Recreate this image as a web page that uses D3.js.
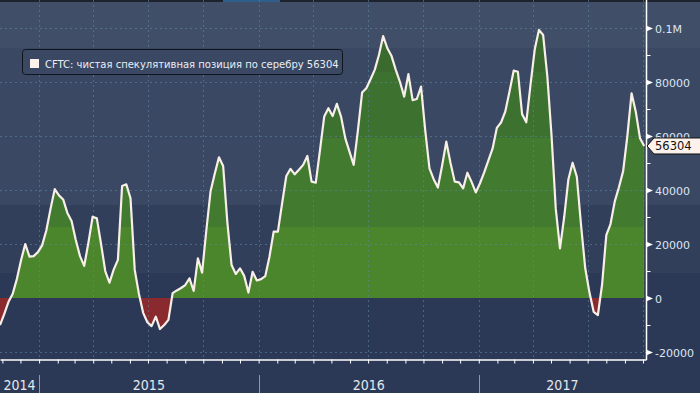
<!DOCTYPE html>
<html lang="ru">
<head>
<meta charset="utf-8">
<title>CFTC silver</title>
<script src="https://d3js.org/d3.v7.min.js"></script>
<style>
  body { margin: 0; background: #2c3956; }
  svg { display: block; }
  .ylab { font: 11px "DejaVu Sans", sans-serif; fill: #dbe5f3; }
  .xlab { font: 14px "Liberation Sans Narrow", "DejaVu Sans Condensed", sans-serif; fill: #e3e8ef; }
  .legend-text { font: 10px "DejaVu Sans", sans-serif; fill: #e8edf5; }
</style>
</head>
<body>
<svg width="700" height="393"></svg>
<script>
// weekly CFTC data, first report 2014-10-28
var startDate = new Date(2014, 9, 28);
var values = [
  -10000, -6000, -1500, 1500, 7000, 14000, 20000, 15300, 15500, 17000,
  19500, 25000, 33000, 40300, 38000, 36500, 31500, 28500, 21500, 15500,
  11900, 20500, 30100, 29500, 20000, 10000, 5700, 10500, 14100, 41500,
  42100, 36900, 10400, 1500, -5500, -9000, -10400, -6900, -11500, -10000,
  -8100, 1800, 2800, 3700, 4800, 7300, 2600, 14700, 9400, 25000,
  39400, 46000, 52100, 48900, 28000, 12200, 8900, 11000, 8200, 2000,
  9700, 6500, 7000, 8100, 15300, 24600, 24600, 35000, 45200, 47800,
  45800, 47500, 49300, 52600, 43100, 42700, 54800, 67200, 70300, 67400,
  71900, 67200, 59200, 54200, 49300, 62000, 76100, 77700, 81000, 84500,
  90000, 97000, 92500, 89600, 84500, 80000, 74600, 82900, 73300, 73700,
  78300, 62000, 48000, 44000, 40900, 49000, 57900, 50000, 43100, 42800,
  40600, 46400, 43000, 39100, 42500, 46500, 51000, 55400, 63000, 65000,
  69000, 76400, 84200, 83800, 68100, 65100, 79000, 92000, 99300, 97400,
  82000, 60000, 33000, 18400, 30000, 44000, 50100, 44900, 27000, 11000,
  2000, -5100, -6300, 5000, 23300, 27400, 35700, 41000, 47000, 60000,
  75800, 69000, 59200, 56304
];
var yMajor = [-20000, 0, 20000, 40000, 60000, 80000, 100000];
var yMinor = [-20000, -10000, 0, 10000, 20000, 30000, 40000, 50000, 60000, 70000, 80000, 90000, 100000];
var years = [2014, 2015, 2016, 2017];
var seriesName = "CFTC: чистая спекулятивная позиция по серебру";

var dates = values.map(function(v, i) { return d3.timeDay.offset(startDate, 7 * i); });
var data = values.map(function(v, i) { return {date: dates[i], value: v}; });
var last = data[data.length - 1];

var svg = d3.select("svg"),
    W = 700, H = 393,
    plotRight = 646, plotBottom = 359;

var x = d3.scaleTime()
    .domain([startDate, new Date(2017, 9, 6)])
    .range([0, plotRight]);
var y = d3.scaleLinear()
    .domain([-20000, 100000])
    .range([352, 28]);

var defs = svg.append("defs");

// stepped background shading
function stepGradient(id, stops, y2) {
  var g = defs.append("linearGradient")
      .attr("id", id)
      .attr("gradientUnits", "userSpaceOnUse")
      .attr("x1", 0).attr("y1", 0).attr("x2", 0).attr("y2", y2);
  stops.forEach(function(s, i) {
    var from = s[0] / y2, to = (i < stops.length - 1 ? stops[i + 1][0] : y2) / y2;
    g.append("stop").attr("offset", from).attr("stop-color", s[1]);
    g.append("stop").attr("offset", to).attr("stop-color", s[1]);
  });
}
stepGradient("bg", [[0, "#414e68"], [48, "#3a4863"], [205, "#323f5b"], [273, "#2c3956"]], H);
stepGradient("green", [[0, "#3a6a2d"], [72, "#3d712f"], [138, "#427a30"], [227, "#4b862c"]], y(0));

svg.append("rect").attr("width", W).attr("height", H).attr("fill", "url(#bg)");
svg.append("rect").attr("width", W).attr("height", 2).attr("fill", "#1d222c");
svg.append("rect").attr("x", 223).attr("width", 57).attr("height", 2).attr("fill", "#2f5d8c");

defs.append("clipPath").attr("id", "above")
  .append("rect").attr("x", 0).attr("y", 0).attr("width", plotRight).attr("height", y(0));
defs.append("clipPath").attr("id", "below")
  .append("rect").attr("x", 0).attr("y", y(0)).attr("width", plotRight).attr("height", plotBottom - y(0));

var area = d3.area()
    .x(function(d) { return x(d.date); })
    .y0(y(0))
    .y1(function(d) { return y(d.value); });

svg.append("path").datum(data)
    .attr("clip-path", "url(#above)")
    .attr("fill", "url(#green)")
    .attr("d", area);
svg.append("path").datum(data)
    .attr("clip-path", "url(#below)")
    .attr("fill", "#8a2a2f")
    .attr("d", area);

// grid
var grid = svg.append("g").attr("stroke", "#5f88a6").attr("stroke-opacity", 0.55)
    .attr("stroke-dasharray", "2,3").attr("stroke-width", 1);
yMajor.filter(function(v) { return v !== 0; }).forEach(function(v) {
  grid.append("line").attr("x1", 0).attr("x2", plotRight)
    .attr("y1", Math.round(y(v)) + 0.5).attr("y2", Math.round(y(v)) + 0.5);
});
x.ticks(d3.timeMonth.every(3)).forEach(function(d) {
  grid.append("line").attr("y1", 0).attr("y2", plotBottom)
    .attr("x1", Math.round(x(d)) + 0.5).attr("x2", Math.round(x(d)) + 0.5);
});

svg.append("path").datum(data)
    .attr("fill", "none")
    .attr("stroke", "#f8efe8")
    .attr("stroke-width", 2.2)
    .attr("stroke-linejoin", "round")
    .attr("d", d3.line()
      .x(function(d) { return x(d.date); })
      .y(function(d) { return y(d.value); }));

// right axis
var yAxisG = svg.append("g")
    .attr("transform", "translate(" + (plotRight + 0.5) + ",0)")
    .call(d3.axisRight(y).tickValues(yMinor).tickSize(4).tickSizeOuter(0).tickFormat(""));
yAxisG.select(".domain").remove();
yAxisG.selectAll("line").attr("stroke", "#ffffff");
svg.append("line").attr("x1", plotRight + 0.5).attr("x2", plotRight + 0.5)
    .attr("y1", 0).attr("y2", plotBottom + 1).attr("stroke", "#ffffff").attr("stroke-width", 1.5);

svg.selectAll(".ytri").data(yMajor).enter().append("path")
    .attr("fill", "#ffffff")
    .attr("d", function(v) {
      var yy = Math.round(y(v)) + 0.5;
      return "M" + plotRight + "," + (yy - 3) + "L" + (plotRight + 7) + "," + yy + "L" + plotRight + "," + (yy + 3) + "Z";
    });
svg.selectAll(".ylab").data(yMajor).enter().append("text")
    .attr("class", "ylab")
    .attr("x", 655)
    .attr("y", function(v) { return y(v) + 4.5; })
    .text(function(v) { return v === 100000 ? "0.1M" : String(v); });

// bottom axis
var xAxisG = svg.append("g")
    .attr("transform", "translate(0," + (plotBottom + 0.5) + ")")
    .call(d3.axisBottom(x).ticks(d3.timeMonth.every(1)).tickSize(4).tickSizeOuter(0).tickFormat(""));
xAxisG.select(".domain").attr("stroke", "#ffffff").attr("stroke-width", 1.5);
xAxisG.selectAll("line").attr("stroke", "#ffffff");

years.slice(1).forEach(function(yr) {
  var xx = Math.round(x(new Date(yr, 0, 1))) + 0.5;
  svg.append("line").attr("x1", xx).attr("x2", xx).attr("y1", 375).attr("y2", H)
    .attr("stroke", "#8d98aa").attr("stroke-width", 1);
});
years.forEach(function(yr) {
  var a = Math.max(0, x(new Date(yr, 0, 1)));
  var b = Math.min(plotRight, x(new Date(yr + 1, 0, 1)));
  svg.append("text").attr("class", "xlab")
    .attr("x", (a + b) / 2).attr("y", 390)
    .attr("text-anchor", "middle")
    .text(yr);
});

// last value tag
var ty = y(last.value);
svg.append("path")
    .attr("d", "M" + (plotRight + 1) + "," + ty + "L" + (plotRight + 8) + "," + (ty - 8) +
      "L" + (W + 2) + "," + (ty - 8) + "L" + (W + 2) + "," + (ty + 8) + "L" + (plotRight + 8) + "," + (ty + 8) + "Z")
    .attr("fill", "#fdf1ec").attr("stroke", "#111").attr("stroke-width", 1);
svg.append("text").attr("x", 655).attr("y", ty + 4.5)
    .attr("font-family", "DejaVu Sans, sans-serif").attr("font-size", 11.5).attr("fill", "#111")
    .text(last.value);

// legend
var lg = svg.append("g");
lg.append("rect").attr("x", 22.5).attr("y", 49.5).attr("width", 320).attr("height", 25)
    .attr("rx", 3).attr("fill", "#3a4863").attr("stroke", "#10141c").attr("stroke-width", 1);
lg.append("rect").attr("x", 30).attr("y", 59).attr("width", 9).attr("height", 9).attr("fill", "#fdf1ec");
lg.append("text").attr("class", "legend-text").attr("x", 45).attr("y", 67.5)
    .text(seriesName + "  " + last.value);
</script>
</body>
</html>
